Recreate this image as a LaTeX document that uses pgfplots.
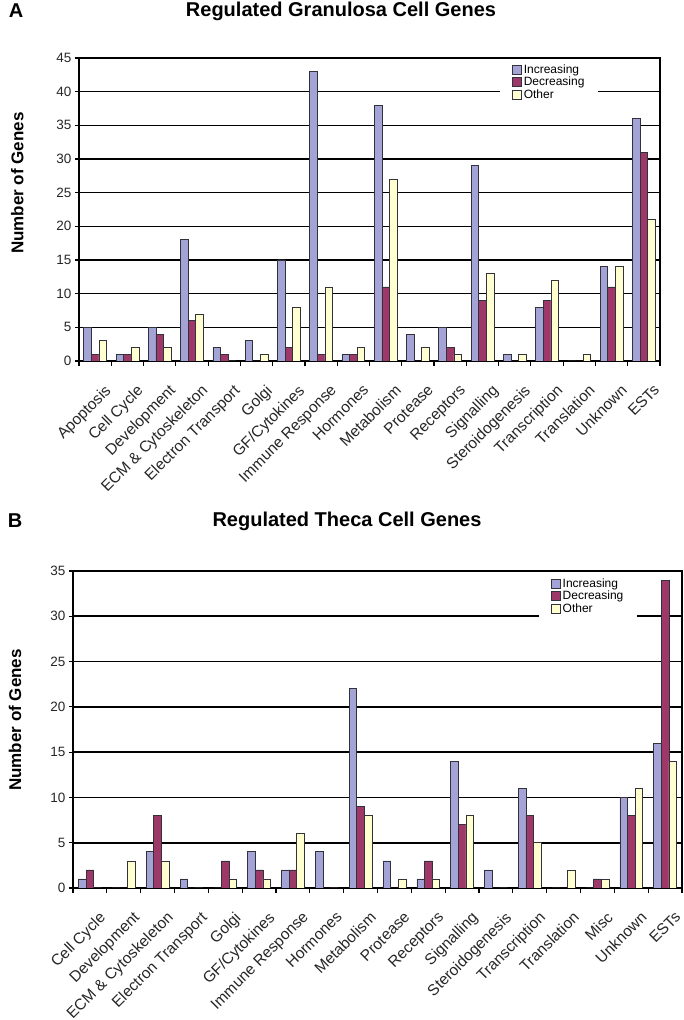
\documentclass[border=0pt]{standalone}
\usepackage{fontspec}
\setmainfont{Liberation Sans}
\usepackage{pgfplots}
\pgfplotsset{compat=1.18}
\definecolor{incC}{RGB}{163,163,214}
\definecolor{decC}{RGB}{158,56,104}
\definecolor{othC}{RGB}{255,255,208}
\definecolor{barE}{RGB}{50,50,60}

\pgfplotsset{
  genebars/.style={
    ybar=0pt,
    bar width=7.6pt,
    scale only axis,
    anchor=south west,
    xmin=-0.5, xmax=17.5,
    ymin=0,
    xtick={0,...,17},
    major x tick style={draw=none},
    minor xtick={-0.5,0.5,...,17.5},
    minor x tick style={black, line width=1.2pt},
    minor tick length=5pt,
    major tick length=4pt,
    tick align=outside,
    xtick pos=left, ytick pos=left,
    ytick style={black, line width=1.2pt},
    ymajorgrids=true,
    major grid style={black, line width=1.6pt},
    axis line style={black, line width=1.6pt},
    /pgf/number format/assume math mode=true,
    yticklabel style={font=\fontsize{13.5}{13.5}\selectfont, text=black!85},
    xticklabel style={font=\fontsize{15.5}{15.5}\selectfont, text=black!85, rotate=45, anchor=north east, inner sep=1pt, xshift=-6pt, yshift=-18pt},
    ylabel={Number of Genes},
    legend image code/.code={\draw[#1] (0pt,-4.5pt) rectangle (9pt,4.5pt);},
    legend style={draw=none, fill=white, font=\fontsize{12}{12.5}\selectfont, inner xsep=12pt, inner ysep=2pt, row sep=-1.5pt, cells={anchor=west}},
    legend cell align=left,
  },
  inc/.style={fill=incC, draw=barE, line width=0.6pt},
  dec/.style={fill=decC, draw=barE, line width=0.6pt},
  oth/.style={fill=othC, draw=barE, line width=0.6pt},
}

\begin{document}
\begin{tikzpicture}
\useasboundingbox (0,0) rectangle (684pt,1020pt);
% Panel A
\node[font=\fontsize{20}{20}\selectfont\bfseries] at (16pt,1009pt) {A};
\node[font=\fontsize{20}{20}\selectfont\bfseries] at (341pt,1009pt) {Regulated Granulosa Cell Genes};
\begin{axis}[genebars,
  at={(79pt,659pt)}, width=581pt, height=303pt,
  ymax=45, ytick={0,5,...,45},
  xticklabels={Apoptosis,Cell Cycle,Development,ECM \& Cytoskeleton,Electron Transport,Golgi,GF/Cytokines,Immune Response,Hormones,Metabolism,Protease,Receptors,Signalling,Steroidogenesis,Transcription,Translation,Unknown,ESTs},
  ylabel style={font=\fontsize{17}{17}\selectfont\bfseries, at={(axis description cs:-0.106,0.587)}, anchor=center},
  legend style={at={(0.7246,0.993)}, anchor=north west},
]
\addplot[inc] coordinates {(0,5)(1,1)(2,5)(3,18)(4,2)(5,3)(6,15)(7,43)(8,1)(9,38)(10,4)(11,5)(12,29)(13,1)(14,8)(15,0)(16,14)(17,36)};
\addplot[dec] coordinates {(0,1)(1,1)(2,4)(3,6)(4,1)(5,0)(6,2)(7,1)(8,1)(9,11)(10,0)(11,2)(12,9)(13,0)(14,9)(15,0)(16,11)(17,31)};
\addplot[oth] coordinates {(0,3)(1,2)(2,2)(3,7)(4,0)(5,1)(6,8)(7,11)(8,2)(9,27)(10,2)(11,1)(12,13)(13,1)(14,12)(15,1)(16,14)(17,21)};
\legend{Increasing,Decreasing,Other}
\end{axis}
% Panel B
\node[font=\fontsize{20}{20}\selectfont\bfseries] at (15pt,499pt) {B};
\node[font=\fontsize{20}{20}\selectfont\bfseries] at (347pt,499pt) {Regulated Theca Cell Genes};
\begin{axis}[genebars,
  at={(73pt,132pt)}, width=609pt, height=317pt,
  ymax=35, ytick={0,5,...,35},
  xticklabels={Cell Cycle,Development,ECM \& Cytoskeleton,Electron Transport,Golgi,GF/Cytokines,Immune Response,Hormones,Metabolism,Protease,Receptors,Signalling,Steroidogenesis,Transcription,Translation,Misc,Unknown,ESTs},
  ylabel style={font=\fontsize{17}{17}\selectfont\bfseries, at={(axis description cs:-0.095,0.53)}, anchor=center},
  legend style={at={(0.765,0.99)}, anchor=north west},
]
\addplot[inc] coordinates {(0,1)(1,0)(2,4)(3,1)(4,0)(5,4)(6,2)(7,4)(8,22)(9,3)(10,1)(11,14)(12,2)(13,11)(14,0)(15,0)(16,10)(17,16)};
\addplot[dec] coordinates {(0,2)(1,0)(2,8)(3,0)(4,3)(5,2)(6,2)(7,0)(8,9)(9,0)(10,3)(11,7)(12,0)(13,8)(14,0)(15,1)(16,8)(17,34)};
\addplot[oth] coordinates {(0,0)(1,3)(2,3)(3,0)(4,1)(5,1)(6,6)(7,0)(8,8)(9,1)(10,1)(11,8)(12,0)(13,5)(14,2)(15,1)(16,11)(17,14)};
\legend{Increasing,Decreasing,Other}
\end{axis}
\end{tikzpicture}
\end{document}
